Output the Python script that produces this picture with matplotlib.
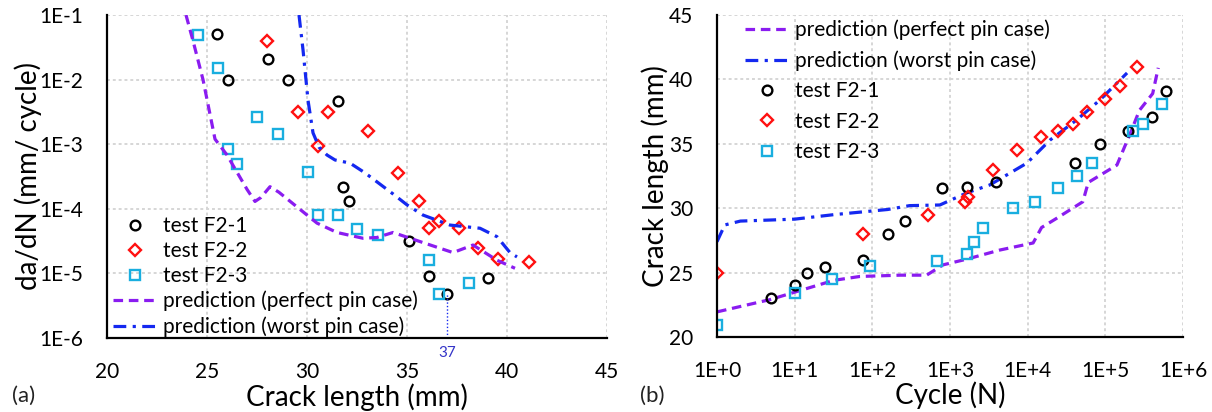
import matplotlib
matplotlib.use("Agg")
import matplotlib.pyplot as plt
import matplotlib.transforms as mtransforms
from matplotlib.ticker import FixedLocator, FuncFormatter, NullLocator
import numpy as np

plt.rcParams["font.family"] = ["Lato", "DejaVu Sans"]

# ---- panel (a): da/dN vs crack length ----
a1_x = [25.5, 26.05, 28.05, 29.05, 31.55, 31.8, 32.1, 35.1, 36.1, 37.0, 39.05]
a1_y = [5e-2, 1e-2, 2.1e-2, 1e-2, 4.7e-3, 2.2e-4, 1.3e-4, 3.2e-5, 9e-6, 4.8e-6, 8.5e-6]
a2_x = [28.0, 29.55, 31.05, 33.05, 30.55, 34.55, 35.6, 36.6, 36.1, 37.6, 38.55, 39.55, 41.1]
a2_y = [4e-2, 3.2e-3, 3.2e-3, 1.6e-3, 9.3e-4, 3.6e-4, 1.3e-4, 6.5e-5, 5e-5, 5e-5, 2.5e-5, 1.66e-5, 1.5e-5]
a3_x = [24.55, 25.55, 27.5, 28.55, 26.05, 26.5, 30.05, 30.55, 31.55, 32.5, 33.55, 36.1, 38.1, 36.6]
a3_y = [4.9e-2, 1.5e-2, 2.6e-3, 1.45e-3, 8.5e-4, 4.9e-4, 3.7e-4, 8e-5, 8e-5, 4.9e-5, 3.9e-5, 1.6e-5, 7e-6, 4.8e-6]

perfect_a_x = [23.95, 24.3, 24.8, 25.4, 26.0, 27.0, 27.4, 27.7, 28.15, 28.6, 29.3, 30.5,
               31.5, 32.8, 33.5, 34.3, 35.8, 37.3, 38.3, 39.5, 40.4]
perfect_a_y = [1e-1, 4e-2, 1e-2, 1.2e-3, 6.8e-4, 2e-4, 1.3e-4, 1.5e-4, 2.2e-4, 1.8e-4, 1.2e-4, 6e-5,
               4.3e-5, 3.5e-5, 3.6e-5, 4.3e-5, 3e-5, 2.1e-5, 2.75e-5, 1.6e-5, 1.2e-5]
worst_a_x = [29.6, 29.8, 30.05, 30.3, 30.6, 31.0, 31.4, 32.15, 32.9, 34.3, 35.0, 35.8, 37.15, 38.65, 39.5, 40.15, 40.5]
worst_a_y = [1e-1, 2.9e-2, 4.8e-3, 1.5e-3, 9e-4, 6.8e-4, 5.7e-4, 5.1e-4, 3.6e-4, 1.7e-4, 1.15e-4, 8e-5, 5.6e-5,
             5e-5, 3.7e-5, 2.1e-5, 1.8e-5]

# ---- panel (b): crack length vs cycles ----
b1_n = [5, 10, 14.4, 24.5, 76, 160, 263, 790, 1650, 3900, 40600, 85000, 195000, 395000, 600000]
b1_a = [23.0, 24.0, 25.0, 25.45, 26.0, 28.0, 29.0, 31.55, 31.65, 32.0, 33.5, 35.0, 36.0, 37.05, 39.1]
b2_n = [1, 76, 520, 1550, 1700, 3550, 7200, 14800, 24600, 38000, 58000, 98000, 155000, 255000]
b2_a = [25.0, 28.0, 29.5, 30.5, 30.9, 33.0, 34.5, 35.55, 36.0, 36.5, 37.45, 38.5, 39.5, 41.0]
b3_n = [1, 10, 30, 93, 675, 1650, 2040, 2650, 6500, 12400, 24600, 43000, 67000, 225000, 310000, 530000]
b3_a = [20.9, 23.4, 24.5, 25.5, 25.9, 26.45, 27.4, 28.45, 30.0, 30.5, 31.55, 32.5, 33.5, 36.0, 36.55, 38.1]

perfect_b_n = [1, 4.8, 32, 69, 229, 500, 813, 1660, 4370, 11750, 15100, 23400, 51300, 60300,
               141000, 209000, 275000, 407000, 480000]
perfect_b_a = [21.95, 22.9, 24.4, 24.7, 24.8, 24.8, 25.6, 26.05, 26.75, 27.3, 28.5, 29.2, 30.5, 32.0,
               33.35, 35.8, 37.6, 38.9, 40.9]
worst_b_n = [1, 1.26, 2.0, 10, 32, 158, 302, 741, 1660, 3240, 9770, 19500, 42700, 85100, 190500]
worst_b_a = [27.4, 28.7, 29.0, 29.15, 29.5, 29.9, 30.2, 30.25, 31.2, 31.8, 33.5, 35.3, 36.85, 38.4, 40.5]

black = "black"
red = "#FF1010"
cyan = "#19AEDF"
purple = "#8A1CF0"
blue = "#1428F0"
grid_c = "#D6D6D6"

W, H = 1212, 412
fig = plt.figure(figsize=(W / 100, H / 100), dpi=100)

def px_axes(l, r, t, b):
    return fig.add_axes([l / W, 1 - b / H, (r - l) / W, (b - t) / H])

def style(ax):
    for s in ("top", "right"):
        ax.spines[s].set_visible(False)
    for s in ("left", "bottom"):
        ax.spines[s].set_linewidth(1.6)
    ax.tick_params(length=0, labelsize=15, pad=17)
    ax.grid(True, which="major", color=grid_c, linestyle=(0, (1.5, 1.5)), linewidth=1.4)
    ax.set_axisbelow(True)

mk = dict(linestyle="none", markerfacecolor="none", markeredgewidth=1.7)
leg = dict(loc="upper left", frameon=False, fontsize=15, handlelength=2.15,
           handletextpad=0.25, borderpad=0, borderaxespad=0)

# panel (a)
ax = px_axes(107, 607, 15, 338)
style(ax)
ax.set_yscale("log")
ax.plot(a1_x, a1_y, marker="o", markersize=7, markeredgecolor=black, label="test F2-1", **mk)
ax.plot(a2_x, a2_y, marker="D", markersize=6, markeredgecolor=red, label="test F2-2", **mk)
ax.plot(a3_x, a3_y, marker="s", markersize=7, markeredgecolor=cyan, label="test F2-3", **mk)
ax.plot(perfect_a_x, perfect_a_y, color=purple, lw=2.3, dashes=(3, 1.8), label="prediction (perfect pin case)")
ax.plot(worst_a_x, worst_a_y, color=blue, lw=2.3, dashes=(4, 2, 1, 2), label="prediction (worst pin case)")
ax.set_xlim(20, 45)
ax.set_ylim(1e-6, 1e-1)
ax.xaxis.set_major_locator(FixedLocator([20, 25, 30, 35, 40, 45]))
ax.yaxis.set_major_locator(FixedLocator([1e-6, 1e-5, 1e-4, 1e-3, 1e-2, 1e-1]))
ax.yaxis.set_minor_locator(NullLocator())
ax.yaxis.set_major_formatter(FuncFormatter(lambda v, p: "1E%d" % round(np.log10(v))))
ax.tick_params(axis="x", pad=17)
ax.vlines(37, 1e-6, 4.8e-6, colors=blue, linestyles=(0, (1, 1.5)), linewidth=1.0)
tr = mtransforms.blended_transform_factory(ax.transData, ax.transAxes)
ax.text(37, -0.045, "37", transform=tr, ha="center", va="center", fontsize=11, color="#3535C8")
ax.set_xlabel("Crack length (mm)", fontsize=20, va="center")
ax.xaxis.set_label_coords(0.5, -0.182)
ax.set_ylabel("da/dN (mm/ cycle)", fontsize=20, va="center")
ax.yaxis.set_label_coords(-0.158, 0.5)
ax.legend(bbox_to_anchor=(0.012, 0.378), labelspacing=0.24, **leg)
fig.text(12 / W, 1 - 396 / H, "(a)", fontsize=16, va="center", ha="left", color="#222222")

# panel (b)
bx = px_axes(717, 1183, 15, 337)
style(bx)
bx.set_xscale("log")
bx.plot(perfect_b_n, perfect_b_a, color=purple, lw=2.3, dashes=(3, 1.8), label="prediction (perfect pin case)")
bx.plot(worst_b_n, worst_b_a, color=blue, lw=2.3, dashes=(4, 2, 1, 2), label="prediction (worst pin case)")
bx.plot(b1_n, b1_a, marker="o", markersize=7, markeredgecolor=black, label="test F2-1", **mk)
bx.plot(b2_n, b2_a, marker="D", markersize=6, markeredgecolor=red, label="test F2-2", **mk)
bx.plot(b3_n, b3_a, marker="s", markersize=7, markeredgecolor=cyan, label="test F2-3", **mk)
bx.set_xlim(1, 1e6)
bx.set_ylim(20, 45)
bx.xaxis.set_major_locator(FixedLocator([1, 10, 1e2, 1e3, 1e4, 1e5, 1e6]))
bx.xaxis.set_minor_locator(NullLocator())
bx.xaxis.set_major_formatter(FuncFormatter(lambda v, p: "1E+%d" % round(np.log10(v))))
bx.yaxis.set_major_locator(FixedLocator([20, 25, 30, 35, 40, 45]))
bx.tick_params(axis="x", pad=17)
bx.set_xlabel("Cycle (N)", fontsize=20, va="center")
bx.xaxis.set_label_coords(0.5, -0.182)
bx.set_ylabel("Crack length (mm)", fontsize=20, va="center")
bx.yaxis.set_label_coords(-0.133, 0.5)
bx.legend(bbox_to_anchor=(0.06, 0.985), labelspacing=0.49, **leg)
fig.text(640 / W, 1 - 396 / H, "(b)", fontsize=16, va="center", ha="left", color="#222222")

fig.savefig("out.png", dpi=100)
